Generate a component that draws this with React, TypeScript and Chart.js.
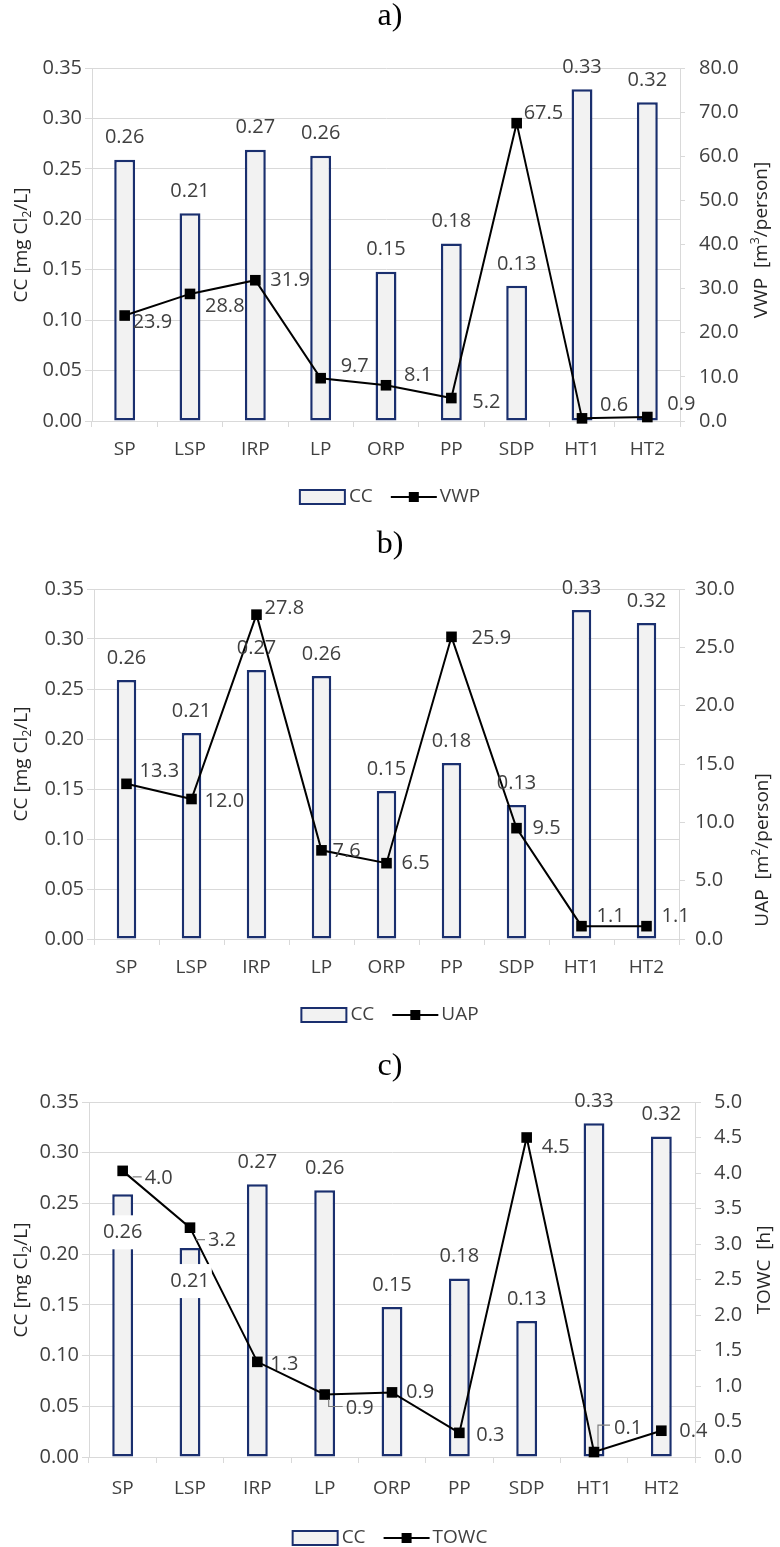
import React, { useEffect, useRef } from "react";
import { Chart, registerables } from "chart.js";

Chart.register(...registerables);

// ---------------- data ----------------
const categories = ["SP", "LSP", "IRP", "LP", "ORP", "PP", "SDP", "HT1", "HT2"];
const ccValues = [0.259, 0.206, 0.269, 0.263, 0.148, 0.176, 0.134, 0.329, 0.316];
const vwpValues = [23.9, 28.8, 31.9, 9.7, 8.1, 5.2, 67.5, 0.6, 0.9];
const uapValues = [13.3, 12.0, 27.8, 7.6, 6.5, 25.9, 9.5, 1.1, 1.1];
const towcValues = [4.03, 3.23, 1.34, 0.88, 0.91, 0.34, 4.5, 0.07, 0.37];

const ccAxis = { min: 0, max: 0.35, step: 0.05, decimals: 2 };
const vwpAxis = { min: 0, max: 80, step: 10, decimals: 1 };
const uapAxis = { min: 0, max: 30, step: 5, decimals: 1 };
const towcAxis = { min: 0, max: 5, step: 0.5, decimals: 1 };

const panelTitles = ["a)", "b)", "c)"];
const barName = "CC";
const lineNames = ["VWP", "UAP", "TOWC"];

type Part = { t: string; sub?: boolean; sup?: boolean };
const ccTitle: Part[] = [{ t: "CC [mg Cl" }, { t: "2", sub: true }, { t: "/L]" }];
const vwpTitle: Part[] = [{ t: "VWP  [m" }, { t: "3", sup: true }, { t: "/person]" }];
const uapTitle: Part[] = [{ t: "UAP  [m" }, { t: "2", sup: true }, { t: "/person]" }];
const towcTitle: Part[] = [{ t: "TOWC  [h]" }];

// ---------------- style ----------------
const FONT = "'Open Sans', 'Noto Sans', sans-serif";
const FS = 20;
const XFS = 19;
const TFS = 19;
const GRID = "#d9d9d9";
const TEXT = "#404040";
const BAR_FILL = "#f2f2f2";
const BAR_BORDER = "#1a2f6e";
const X_H = 60;

type Panel = {
  title: string;
  top: number;
  height: number;
  area: { left: number; right: number; top: number; bottom: number };
  titleBaseline: number;
  legendY: number;
  line: number[];
  lineName: string;
  rAxis: { min: number; max: number; step: number; decimals: number };
  rTitle: Part[];
  rTitleX: number;
  rTitleY: number;
  lTitleY: number;
  xPad: number;
  rTick: number;
  rPad: number;
  barPct: number;
  lineLabelOffsets: number[][];
  leaders: (string | null)[];
  barLabelDy: number[];
  barLabelBg: boolean[];
};

const d = -22;
const panels: Panel[] = [
  {
    title: panelTitles[0],
    top: 0,
    height: 520,
    area: { left: 92, right: 680, top: 68, bottom: 421 },
    titleBaseline: 25,
    legendY: 497,
    line: vwpValues,
    lineName: lineNames[0],
    rAxis: vwpAxis,
    rTitle: vwpTitle,
    rTitleX: 762,
    rTitleY: 240,
    lTitleY: 245,
    xPad: 11,
    rTick: 5,
    rPad: 14,
    barPct: 0.32,
    lineLabelOffsets: [[8, 7], [15, 12], [15, 0], [20, -12], [18, -10], [21, 4], [7, -10], [18, -13], [20, -13]],
    leaders: [null, null, null, null, null, null, null, null, null],
    barLabelDy: [d, d, d, d, d, d, d, d, d],
    barLabelBg: [false, false, false, false, false, false, false, false, false],
  },
  {
    title: panelTitles[1],
    top: 520,
    height: 510,
    area: { left: 94, right: 679, top: 69, bottom: 419 },
    titleBaseline: 33,
    legendY: 495,
    line: uapValues,
    lineName: lineNames[1],
    rAxis: uapAxis,
    rTitle: uapTitle,
    rTitleX: 763,
    rTitleY: 330,
    lTitleY: 244,
    xPad: 11,
    rTick: 6,
    rPad: 10,
    barPct: 0.3,
    lineLabelOffsets: [[13, -13], [13, 2], [8, -6], [11, 1], [15, 0], [20, 1], [16, 0], [15, -10], [15, -10]],
    leaders: [null, null, null, null, null, null, null, null, null],
    barLabelDy: [d, d, d, d, d, d, d, d, d],
    barLabelBg: [false, false, false, false, false, false, false, false, false],
  },
  {
    title: panelTitles[2],
    top: 1030,
    height: 517,
    area: { left: 89, right: 695, top: 72, bottom: 427 },
    titleBaseline: 45,
    legendY: 508,
    line: towcValues,
    lineName: lineNames[2],
    rAxis: towcAxis,
    rTitle: towcTitle,
    rTitleX: 765,
    rTitleY: 240,
    lTitleY: 250,
    xPad: 14,
    rTick: 6,
    rPad: 13,
    barPct: 0.31,
    lineLabelOffsets: [[22, 7], [18, 13], [13, 2], [21, 14], [14, 0], [17, 2], [15, 10], [20, -24], [18, 1]],
    leaders: ["dash", "dash", null, "down", null, null, null, "up", null],
    barLabelDy: [38, 33, d, d, d, d, d, d, d],
    barLabelBg: [true, true, false, false, false, false, false, false, false],
  },
];

// ---------------- helpers ----------------
function partSize(p: Part) {
  return p.sub || p.sup ? TFS * 0.65 : TFS;
}
function richWidth(ctx: CanvasRenderingContext2D, parts: Part[]) {
  let w = 0;
  for (const p of parts) {
    ctx.font = `${partSize(p)}px ${FONT}`;
    w += ctx.measureText(p.t).width;
  }
  return w;
}
function drawRich(ctx: CanvasRenderingContext2D, parts: Part[], x: number, y: number) {
  let cx = x;
  for (const p of parts) {
    ctx.font = `${partSize(p)}px ${FONT}`;
    const dy = p.sub ? TFS * 0.28 : p.sup ? -TFS * 0.32 : 0;
    ctx.fillText(p.t, cx, y + dy);
    cx += ctx.measureText(p.t).width;
  }
}
function drawRotated(ctx: CanvasRenderingContext2D, parts: Part[], cx: number, cy: number) {
  ctx.save();
  ctx.translate(cx, cy);
  ctx.rotate(-Math.PI / 2);
  ctx.textAlign = "left";
  ctx.textBaseline = "middle";
  const w = richWidth(ctx, parts);
  drawRich(ctx, parts, -w / 2, 0);
  ctx.restore();
}

function makeDecor(p: Panel) {
  return {
    id: "decor",
    afterDatasetsDraw(chart: any) {
      const ctx: CanvasRenderingContext2D = chart.ctx;
      ctx.save();
      // panel title
      ctx.fillStyle = "#000";
      ctx.font = `32px 'Liberation Serif', 'Times New Roman', serif`;
      ctx.textAlign = "center";
      ctx.textBaseline = "alphabetic";
      ctx.fillText(p.title, 390, p.titleBaseline);

      // axis titles
      ctx.fillStyle = "#262626";
      drawRotated(ctx, ccTitle, 22, p.lTitleY);
      drawRotated(ctx, p.rTitle, p.rTitleX, p.rTitleY);

      // bar labels
      ctx.font = `${FS}px ${FONT}`;
      ctx.textAlign = "center";
      ctx.textBaseline = "middle";
      const barMeta = chart.getDatasetMeta(1);
      barMeta.data.forEach((el: any, i: number) => {
        const txt = Number(ccValues[i]).toFixed(ccAxis.decimals);
        const ly = el.y + p.barLabelDy[i];
        if (p.barLabelBg[i]) {
          const w = ctx.measureText(txt).width;
          ctx.fillStyle = "#ffffff";
          ctx.fillRect(el.x - w / 2 - 2, ly - 17, w + 4, 34);
        }
        ctx.fillStyle = TEXT;
        ctx.fillText(txt, el.x, ly);
      });

      // line labels
      const lineMeta = chart.getDatasetMeta(0);
      ctx.textAlign = "left";
      lineMeta.data.forEach((el: any, i: number) => {
        const txt = Number(p.line[i]).toFixed(p.rAxis.decimals);
        const [dx, dy] = p.lineLabelOffsets[i];
        const lx = el.x + dx;
        const ly = el.y + dy;
        const kind = p.leaders[i];
        if (kind) {
          ctx.strokeStyle = "#7f7f7f";
          ctx.lineWidth = 1.2;
          ctx.beginPath();
          if (kind === "dash") {
            ctx.moveTo(lx - 12, ly - 1);
            ctx.lineTo(lx - 3, ly - 1);
          } else if (kind === "down") {
            ctx.moveTo(el.x + 4, el.y + 5);
            ctx.lineTo(el.x + 4, ly - 2);
            ctx.lineTo(lx - 3, ly - 2);
          } else if (kind === "up") {
            ctx.moveTo(el.x + 4, el.y - 5);
            ctx.lineTo(el.x + 4, ly - 3);
            ctx.lineTo(lx - 4, ly - 3);
          }
          ctx.stroke();
        }
        ctx.fillStyle = TEXT;
        ctx.fillText(txt, lx, ly);
      });

      // legend
      ctx.font = `${XFS}px ${FONT}`;
      const boxW = 45, boxH = 14, gap1 = 4, gap2 = 18, lineW = 46, gap3 = 3;
      const w1 = ctx.measureText(barName).width;
      const w2 = ctx.measureText(p.lineName).width;
      const total = boxW + gap1 + w1 + gap2 + lineW + gap3 + w2;
      let x = 390 - total / 2;
      const cy = p.legendY;
      ctx.fillStyle = BAR_FILL;
      ctx.fillRect(x, cy - boxH / 2, boxW, boxH);
      ctx.strokeStyle = BAR_BORDER;
      ctx.lineWidth = 2;
      ctx.strokeRect(x, cy - boxH / 2, boxW, boxH);
      x += boxW + gap1;
      ctx.fillStyle = TEXT;
      ctx.textAlign = "left";
      ctx.textBaseline = "middle";
      ctx.fillText(barName, x, cy);
      x += w1 + gap2;
      ctx.strokeStyle = "#000";
      ctx.lineWidth = 2;
      ctx.beginPath();
      ctx.moveTo(x, cy);
      ctx.lineTo(x + lineW, cy);
      ctx.stroke();
      ctx.fillStyle = "#000";
      ctx.fillRect(x + lineW / 2 - 5, cy - 5, 10, 10);
      x += lineW + gap3;
      ctx.fillStyle = TEXT;
      ctx.fillText(p.lineName, x, cy);

      ctx.restore();
    },
  };
}

function PanelChart({ p }: { p: Panel }) {
  const ref = useRef<HTMLCanvasElement>(null);
  useEffect(() => {
    const tickFont = { family: FONT, size: FS };
    const xFont = { family: FONT, size: XFS };
    const chart = new Chart(ref.current as HTMLCanvasElement, {
      type: "bar",
      data: {
        labels: categories,
        datasets: [
          {
            type: "line",
            label: p.lineName,
            data: p.line,
            yAxisID: "y1",
            borderColor: "#000",
            borderWidth: 2,
            backgroundColor: "#000",
            pointStyle: "rect",
            pointRadius: 7.5,
            pointBackgroundColor: "#000",
            pointBorderColor: "#000",
            pointBorderWidth: 0,
            tension: 0,
            clip: false,
            order: 0,
          } as any,
          {
            type: "bar",
            label: barName,
            data: ccValues,
            yAxisID: "y",
            backgroundColor: BAR_FILL,
            borderColor: BAR_BORDER,
            borderWidth: 2.5,
            borderSkipped: false,
            barPercentage: p.barPct,
            categoryPercentage: 1,
            order: 1,
          } as any,
        ],
      },
      options: {
        responsive: false,
        maintainAspectRatio: false,
        animation: false,
        layout: {
          padding: {
            top: p.area.top,
            bottom: p.height - p.area.bottom - X_H,
            left: 0,
            right: 0,
          },
        },
        plugins: {
          legend: { display: false },
          title: { display: false },
          tooltip: { enabled: false },
        },
        scales: {
          x: {
            type: "category",
            offset: true,
            grid: { offset: true, drawOnChartArea: false, tickLength: 6, color: GRID },
            border: { color: GRID },
            ticks: { font: xFont, color: TEXT, padding: p.xPad, maxRotation: 0, autoSkip: false },
            afterFit: (s: any) => {
              s.height = X_H;
            },
          },
          y: {
            position: "left",
            min: ccAxis.min,
            max: ccAxis.max,
            grid: { color: GRID, tickLength: 7 },
            border: { color: GRID },
            ticks: {
              stepSize: ccAxis.step,
              font: tickFont,
              color: TEXT,
              padding: 3,
              callback: (v: any) => Number(v).toFixed(ccAxis.decimals),
            },
            afterFit: (s: any) => {
              s.width = p.area.left;
            },
          },
          y1: {
            position: "right",
            min: p.rAxis.min,
            max: p.rAxis.max,
            grid: { drawOnChartArea: false, tickLength: p.rTick, color: GRID },
            border: { color: GRID },
            ticks: {
              stepSize: p.rAxis.step,
              font: tickFont,
              color: TEXT,
              padding: p.rPad,
              callback: (v: any) => Number(v).toFixed(p.rAxis.decimals),
            },
            afterFit: (s: any) => {
              s.width = 780 - p.area.right;
            },
          },
        } as any,
      },
      plugins: [makeDecor(p)],
    });
    return () => chart.destroy();
  }, []);
  return (
    <canvas
      ref={ref}
      width={780}
      height={p.height}
      style={{ position: "absolute", left: 0, top: p.top, width: 780, height: p.height }}
    />
  );
}

export default function App() {
  return (
    <div style={{ position: "absolute", left: 0, top: 0, width: 780, height: 1547, background: "#fff" }}>
      {panels.map((p, i) => (
        <PanelChart key={i} p={p} />
      ))}
    </div>
  );
}
